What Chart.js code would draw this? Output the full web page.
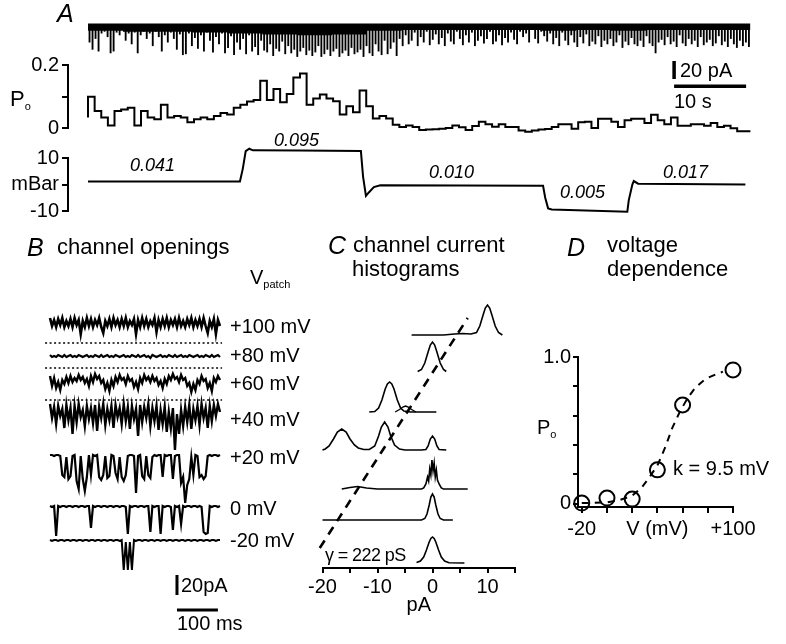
<!DOCTYPE html>
<html>
<head>
<meta charset="utf-8">
<title>Stretch-activated channel: Po, pressure, openings</title>
<script src="https://cdn.jsdelivr.net/npm/chart.js@4.4.1/dist/chart.umd.min.js"></script>
<style>
  html, body { margin: 0; padding: 0; background: #fff; }
  #fig { position: relative; width: 786px; height: 644px; overflow: hidden;
         font-family: "Liberation Sans", Arial, Helvetica, sans-serif; color: #000; }
  #fig canvas { position: absolute; }
  .t { position: absolute; white-space: nowrap; line-height: 1; transform: translateY(-50%); font-size: 20px; }
  .it { font-style: italic; font-size: 18px; }
  .p { font-style: italic; font-size: 25px; }
  .h { font-size: 22px; }
  .g { font-size: 18px; letter-spacing: -0.6px; }
  .big { font-size: 22px; }
  .t sub { font-size: 11px; vertical-align: -4px; }
</style>
</head>
<body>
<div id="fig"></div>
<script>
// ---------- panel A ----------
const recordSec = 92;
// deepest excursion (pA) in each slice of the continuous record
const rawDepth = [
  20, 28, 16, 30, 10, 8, 14, 32, 30, 9,   12, 6, 18, 10, 22, 9, 32, 12, 8, 16,
  10, 24, 8, 14, 30, 12, 20, 9, 16, 28,   11, 34, 33, 10, 24, 15, 27, 12, 30, 9,
  18, 31, 14, 22, 10, 32, 26, 13, 34, 20, 28, 16, 33, 12, 30, 25, 34, 18, 29, 31,
  22, 35, 27, 30, 19, 33, 24, 32, 28, 36, 30, 26, 34, 29, 35, 31, 24, 36, 33, 28,
  35, 30, 27, 36, 32, 29, 35, 26, 33, 31, 28, 36, 24, 32, 35, 22, 30, 34, 18, 33,
  27, 20, 35, 16, 24, 12, 22, 18, 9, 24,  14, 20, 8, 23, 17, 11, 22, 15, 24, 10,
  19, 22, 8, 16, 23, 12, 20, 9, 24, 18,   13, 21, 16, 8, 22, 19, 12, 23, 15, 20,
  9, 17, 22, 8, 14, 10, 20, 6, 16, 21,    8, 13, 19, 10, 22, 15, 24, 9, 18, 23,
  12, 20, 25, 14, 21, 11, 24, 19, 22, 13, 25, 18, 22, 16, 24, 20, 12, 26, 19, 23,
  15, 22, 24, 18, 25, 13, 21, 24, 32, 20, 17, 23, 14, 22, 19, 25, 12, 21, 24, 16,
  22, 18, 25, 14, 23, 20, 17, 24, 21, 13, 23, 19, 25, 16, 22, 26, 18, 24, 20, 25
];
// depth (pA) of the dense noise band, per segment of the record
const rawBand = [9, 7, 8, 8, 9, 10, 11, 12, 11, 7, 6, 6, 6, 6, 7, 6, 7, 6, 6];
// open probability, one value per bin
const poBins = [
  0.033, 0.099, 0.054, 0.033, 0.008, 0.054, 0.059, 0.064, 0.008, 0.054,
  0.033, 0.028, 0.074, 0.033, 0.038, 0.033, 0.018, 0.028, 0.033, 0.028,
  0.038, 0.048, 0.043, 0.064, 0.074, 0.084, 0.089, 0.150, 0.089, 0.124,
  0.082, 0.108, 0.160, 0.173, 0.074, 0.094, 0.106, 0.094, 0.085, 0.043,
  0.069, 0.050, 0.119, 0.069, 0.030, 0.038, 0.030, 0.010, 0.003, 0.008,
  0.003, -0.006, -0.005, -0.004, -0.002, 0.000, 0.008, 0.002, -0.006, 0.006,
  0.020, 0.012, 0.004, 0.012, 0.003, 0.003, -0.008, -0.012, -0.008, -0.005,
  -0.003, 0.003, 0.012, 0.012, -0.002, 0.018, 0.020, 0.000, 0.029, 0.029,
  0.020, 0.003, 0.025, 0.029, 0.029, 0.016, 0.042, 0.025, 0.012, 0.033,
  0.007, 0.007, 0.012, 0.012, 0.007, 0.016, 0.003, 0.007, -0.001, -0.010
];
const poTickVals = [0, 0.1, 0.2];
const poTickText = ['0', '', '0.2'];
// pipette pressure (mBar) against time (s)
const pressT = [0, 21.1, 21.5, 21.9, 22.4, 22.9, 29.4, 37.9, 38.2, 38.6, 39.0, 39.7, 40.6,
                63.2, 63.5, 63.9, 64.4, 74.9, 75.1, 75.6, 75.8, 76.4, 91.3];
const pressP = [1.1, 1.1, 6, 12.6, 13.5, 12.9, 12.8, 12.6, 3, -4.3, -3, -1, -0.3,
                -0.5, -5, -9, -9.4, -10.3, -6, 0, 1.3, 0.3, 0.0];
const pressTickVals = [-10, 0, 10];
const pressTickText = ['-10', 'mBar', '10'];
const pressPoLabels = ['0.041', '0.095', '0.010', '0.005', '0.017'];

// ---------- panel B : single channel records, 5 ms per sample (pA) ----------
const bSampleMs = 5;
const bVolts = ['+100 mV', '+80 mV', '+60 mV', '+40 mV', '+20 mV', '0 mV', '-20 mV'];
const b100 = [0,-8,-2,-9,-1,-7,0,-9,-3,-8,-1,-9,0,-7,-2,-16,-3,-9,0,-8,-1,-9,-2,-7,0,-9,-15,-3,-8,-1,-9,0,-7,-2,-9,-1,-8,0,-9,-3,-7,-1,-16,-2,-9,0,-8,-1,-9,-3,-7,0,-14,-2,-9,-1,-8,0,-9,-2,-7,-1,-9,0,-8,-3,-9,-1,-7,0,-9,-2,-8,-1,-9,0,-8,-15,-3,-9,-1,-16,-2,-8];
const b80 = [0,-2,-1,-2,0,-1,-2,0,-2,-1,0,-2,-1,-2,0,-1,-2,-1,0,-2,-1,-2,0,-1,-2,0,-2,-1,0,-2,-1,-2,0,-1,-2,-1,0,-2,-1,-2,0,-1,-2,0,-2,-1,0,-2,-1,-3,0,-1,-2,-1,0,-2,-1,-2,0,-1,-2,0,-2,-1,0,-2,-1,-2,0,-1,-2,-1,0,-2,-1,-2,0,-1,-2,0,-2,-1,0,-2];
const b60 = [-2,-12,-4,-14,-8,-16,-6,-10,-3,-9,-2,-8,-4,-7,-1,-6,-3,-9,-5,-12,-2,-8,0,-5,-2,-9,-6,-15,-9,-17,-6,-12,-3,-8,-1,-6,-4,-10,-2,-7,-5,-13,-8,-15,-4,-9,-1,-6,-3,-8,-2,-7,-4,-11,-7,-14,-5,-10,-2,-6,0,-5,-3,-8,-1,-6,-4,-12,-9,-18,-10,-16,-6,-10,-2,-7,-5,-14,-9,-17,-4,-8,-2,-6];
const b40 = [0,-14,-3,-20,-2,-12,-5,-24,-1,-16,-4,-30,-2,-18,0,-13,-6,-22,-2,-15,-4,-19,-1,-27,-3,-14,0,-21,-5,-16,-2,-24,-1,-13,-4,-20,0,-17,-3,-25,-2,-15,-5,-32,-1,-18,-3,-14,0,-22,-4,-17,-2,-26,-6,-20,-3,-28,-8,-24,-4,-46,-10,-30,-6,-22,-3,-18,-1,-25,-5,-16,-2,-21,0,-14,-4,-24,-2,-17,-1,-12,0,-8];
const b20 = [0,0,-1,0,0,-1,-20,-22,-2,-24,-21,-1,0,-26,-34,-1,-24,-36,-22,0,-20,0,-1,0,-22,-25,-20,-1,-23,-21,0,-1,-18,-24,-2,-22,-26,-20,-1,0,0,-1,-38,-1,0,-21,-24,-1,-20,-23,-2,0,-1,0,0,-22,0,-1,0,0,-24,-1,0,0,-28,-22,-48,-30,-24,-2,-20,0,-1,-22,-20,-24,-21,-1,0,-1,0,0,-1,0];
const b0 = [0,-1,0,-30,0,-1,0,0,-1,0,0,-1,0,0,-1,0,0,-1,0,0,-22,0,-1,0,0,-1,0,0,-1,0,0,-1,0,0,-1,0,0,-1,-28,0,-1,0,0,-1,0,0,-1,0,0,-26,0,-1,0,0,-28,0,-1,0,0,-1,-24,0,-1,0,-18,0,-1,0,0,-1,0,0,-1,0,-1,-26,-28,-27,0,-1,0,0,-1,0];
const bm20 = [0,-1,0,0,-1,0,0,-1,0,0,-1,0,0,-1,0,0,-1,0,0,-1,0,0,-1,0,0,-1,0,0,-1,0,0,-1,0,0,-1,0,-30,-2,-30,-2,-30,0,-1,0,0,-1,0,0,-1,0,0,-1,0,0,-1,0,0,-1,0,0,-1,0,0,-1,0,0,-1,0,0,-1,0,0,-1,0,0,-1,0,0,-1,0,0,-1,0,0];
const bTraces = [b100, b80, b60, b40, b20, b0, bm20];

// ---------- panel C : current histograms (pA, relative counts) ----------
const histCurrent = [
  [-3.8, 2, 4, 5.5, 7, 8, 8.6, 9.2, 9.6, 10, 10.4, 10.8, 11.4, 12, 12.7],
  [-2.7, -2, -1.4, -0.8, -0.4, 0, 0.4, 0.8, 1.4, 2, 2.5],
  [-11.5, -10.5, -9.8, -9.2, -8.6, -8.2, -7.8, -7.4, -7.0, -6.4, -5.8, -5.2, -4, 0.7],
  [-20, -19.5, -18.8, -18, -17.3, -16.5, -15.7, -15, -14.2, -13.5, -12.5, -11.5, -10.5, -9.8, -9.3, -8.7, -8.1, -7.6, -6.9, -6.0, -5, -2, -1.2, -0.8, -0.4, 0, 0.4, 0.8, 1.2, 2.5],
  [-16.5, -15, -13.6, -12, -10, -2, -1.6, -1.2, -0.9, -0.7, -0.5, -0.3, -0.1, 0.1, 0.3, 0.5, 0.7, 0.9, 1.2, 1.6, 2, 6.4],
  [-20, -2, -1.4, -1, -0.6, -0.3, 0, 0.3, 0.6, 1, 1.4, 2, 3.7],
  [-2.9, -2.2, -1.6, -1.1, -0.6, -0.3, 0, 0.3, 0.6, 1.1, 1.6, 2.2, 3, 5.8]
];
const histCount = [
  [0, 0, 1, 1.5, 1, 2.5, 9, 20, 27, 30, 27, 20, 9, 2.5, 0],
  [0.5, 2.5, 9, 20, 27, 30, 27, 20, 9, 2.5, 0.5],
  [0, 0.5, 4, 12, 23, 28, 30, 28, 23, 12, 4, 1, 0, 0],
  [0, 1, 4, 11, 18, 21, 18, 11, 5, 2, 0.5, 0.5, 4, 14, 23, 28, 23, 14, 5, 1, 0, 0, 0.5, 4, 11, 14, 11, 4, 0.5, 0],
  [0, 1.5, 2.5, 1, 0, 0, 1, 5, 12, 8, 20, 14, 29, 18, 26, 12, 19, 9, 5, 1, 0, 0],
  [0, 0, 1.5, 6, 15, 23, 26, 23, 15, 6, 1.5, 0, 0],
  [0.5, 2, 6, 13, 21, 24.5, 26, 24.5, 21, 13, 6, 2, 0.3, 0]
];
// the small second level in the +60 mV histogram
const hist60SubCurrent = [-6.8, -6.0, -5.4, -4.9, -4.4, -3.8, -3.0];
const hist60SubCount = [0, 2.5, 5, 6, 5, 2.5, 0];
const ivFitCurrent = [-20.5, 6.4];
const ivFitLevel = [20, 250];
const cTickVals = [-20, -15, -10, -5, 0, 5, 10, 15];
const cTickText = { '-20': '-20', '-10': '-10', '0': '0', '10': '10' };

// ---------- panel D : voltage dependence ----------
const dVolt = [-20, 0, 20, 40, 60, 100];
const dPo = [0.005, 0.039, 0.032, 0.231, 0.673, 0.912];
const fitVolt = [-20, -10, 0, 10, 20, 28, 34, 40, 46, 52, 58, 64, 70, 78, 86, 92];
const fitPo = [0.005, 0.006, 0.01, 0.025, 0.055, 0.115, 0.185, 0.26, 0.38, 0.52, 0.63, 0.72, 0.79, 0.85, 0.88, 0.9];
const dXTicks = [-20, 0, 20, 40, 60, 80, 100];
const dXText = { '-20': '-20', '40': 'V (mV)', '100': '+100' };
const dYTicks = [0, 0.2, 0.4, 0.6, 0.8, 1.0];
const dYText = { '0': '0', '1': '1.0' };

// ---------- layout ----------
const fig = document.getElementById('fig');
const FONT = '"Liberation Sans", Arial, Helvetica, sans-serif';
const INK = '#000';
Chart.defaults.font.family = FONT;
Chart.defaults.font.size = 20;
Chart.defaults.color = INK;
Chart.defaults.animation = false;
Chart.defaults.events = [];
Chart.defaults.plugins.legend.display = false;
Chart.defaults.plugins.tooltip.enabled = false;
if (Chart.defaults.plugins.colors) Chart.defaults.plugins.colors.enabled = false;
Chart.defaults.elements.point.radius = 0;
Chart.defaults.elements.line.borderColor = INK;
Chart.defaults.elements.line.borderWidth = 2;

function makeCanvas(left, top, w, h) {
  const c = document.createElement('canvas');
  c.width = w; c.height = h;
  c.style.left = left + 'px'; c.style.top = top + 'px';
  c.style.width = w + 'px'; c.style.height = h + 'px';
  fig.appendChild(c);
  return c;
}
function xy(xs, ys, off) {
  return xs.map((x, i) => ({ x: x, y: ys[i] + (off || 0) }));
}
function line(data, extra) {
  return Object.assign({ type: 'line', data: data, borderColor: INK, backgroundColor: INK,
                         borderWidth: 2, pointRadius: 0, clip: false }, extra);
}
function axisStyle(vals, text, tickLen, pad) {
  return {
    afterBuildTicks: s => { s.ticks = vals.map(v => ({ value: v })); },
    border: { display: true, color: INK, width: 2 },
    grid: { drawOnChartArea: false, color: INK, lineWidth: 2, tickLength: tickLen },
    ticks: { color: INK, padding: pad, autoSkip: false, maxRotation: 0, minRotation: 0,
             callback: v => text[String(v)] ?? '' }
  };
}
function asMap(vals, labels) {
  const m = {};
  vals.forEach((v, i) => { m[String(v)] = labels[i]; });
  return m;
}
const base = { responsive: false, devicePixelRatio: 1 };

// common time axis of panel A: chart area 68..751 px, record starts at 88 px
const aMin = -2.78, aMax = 92.08;

// A: continuous record
const rawDt = recordSec / rawDepth.length;
const bandDt = recordSec / rawBand.length;
const bandPts = rawBand.map((d, i) => ({ x: i * bandDt, y: -d }));
bandPts.push({ x: recordSec, y: -rawBand[rawBand.length - 1] });
new Chart(makeCanvas(0, 18, 786, 82), {
  type: 'bar',
  data: { datasets: [
    line(bandPts, { stepped: 'after', fill: { value: 1 }, borderWidth: 0, clip: true }),
    { type: 'bar', data: rawDepth.map((d, i) => ({ x: (i + 0.5) * rawDt, y: [0, -d] })),
      backgroundColor: INK, barPercentage: 0.62, categoryPercentage: 1 },
    line([{ x: 81.4, y: -40.6 }, { x: 81.4, y: -60.6 }], { borderWidth: 3.5 }),
    line([{ x: 81.4, y: -68.5 }, { x: 91.4, y: -68.5 }], { borderWidth: 3.5 })
  ] },
  options: { ...base,
    layout: { padding: { left: 68, right: 35, top: 0, bottom: 0 } },
    scales: {
      x: { type: 'linear', offset: false, display: false, min: aMin, max: aMax },
      y: { display: false, min: -83.9, max: 7.2 }
    } }
});

// A: open probability
const poDt = recordSec / poBins.length;
const poPts = poBins.map((v, i) => ({ x: i * poDt, y: v }));
poPts.push({ x: recordSec, y: poBins[poBins.length - 1] });
new Chart(makeCanvas(0, 50, 786, 93), {
  type: 'line',
  data: { datasets: [line(poPts, { stepped: 'after' })] },
  options: { ...base,
    layout: { padding: { left: 0, right: 35, top: 15, bottom: 12 } },
    scales: {
      x: { type: 'linear', display: false, min: aMin, max: aMax },
      y: Object.assign({ min: 0, max: 0.2, afterFit: s => { s.width = 68; } },
                       axisStyle(poTickVals, asMap(poTickVals, poTickText), 6, 3))
    } }
});

// A: pressure
new Chart(makeCanvas(0, 142, 786, 84), {
  type: 'line',
  data: { datasets: [line(xy(pressT, pressP))] },
  options: { ...base,
    layout: { padding: { left: 0, right: 35, top: 16, bottom: 14 } },
    scales: {
      x: { type: 'linear', display: false, min: aMin, max: aMax },
      y: Object.assign({ min: -10, max: 10, afterFit: s => { s.width = 68; } },
                       axisStyle(pressTickVals, asMap(pressTickVals, pressTickText), 6, 3))
    } }
});

// B: channel openings (1 px per pA, canvas top = 0 pA)
const bRowBase = [-18, -55, -74, -104, -155, -206, -240];
const bWidth = [2.6, 2.2, 2.4, 2.4, 2.2, 2.2, 2.0];
const bDotted = [-43, -68, -100];
const bDatasets = bTraces.map((tr, k) =>
  line(tr.map((v, i) => ({ x: i * bSampleMs, y: bRowBase[k] + v })), { borderWidth: bWidth[k] }));
bDotted.forEach(y => bDatasets.push(
  line([{ x: -12, y: y }, { x: 420, y: y }], { borderWidth: 1.3, borderDash: [2, 2.5] })));
bDatasets.push(line([{ x: 310, y: -275 }, { x: 310, y: -295 }], { borderWidth: 3 }));
bDatasets.push(line([{ x: 310, y: -310 }, { x: 410, y: -310 }], { borderWidth: 3 }));
new Chart(makeCanvas(0, 300, 300, 340), {
  type: 'line',
  data: { datasets: bDatasets },
  options: { ...base,
    layout: { padding: { left: 50, right: 80, top: 0, bottom: 0 } },
    scales: {
      x: { type: 'linear', display: false, min: 0, max: 415 },
      y: { display: false, min: -340, max: 0 }
    } }
});

// C: current histograms, stacked rows
const histRowBase = [233, 196, 156, 118, 79, 48, 5];
const cDatasets = histCurrent.map((xs, k) => line(xy(xs, histCount[k], histRowBase[k]), { borderWidth: 1.6 }));
cDatasets.push(line(xy(hist60SubCurrent, hist60SubCount, histRowBase[2]), { borderWidth: 1.4 }));
cDatasets.push(line(xy(ivFitCurrent, ivFitLevel), { borderWidth: 2.6, borderDash: [9, 7] }));
new Chart(makeCanvas(300, 280, 240, 345), {
  type: 'line',
  data: { datasets: cDatasets },
  options: { ...base,
    layout: { padding: { left: 22.5, right: 25, top: 10, bottom: 0 } },
    scales: {
      x: Object.assign({ type: 'linear', min: -20, max: 15, afterFit: s => { s.height = 57; },
                         title: { display: true, text: 'pA', color: INK, padding: { top: 0, bottom: 8 } } },
                       axisStyle(cTickVals, cTickText, 5, 2)),
      y: { display: false, min: 0, max: 278 }
    } }
});

// D: voltage dependence
new Chart(makeCanvas(520, 340, 266, 210), {
  type: 'line',
  data: { datasets: [
    line(xy(dVolt, dPo), { showLine: false, pointRadius: 7.5, pointBorderWidth: 2,
      pointBorderColor: INK, pointBackgroundColor: 'rgba(0,0,0,0)' }),
    line(xy(fitVolt, fitPo), { borderWidth: 2, borderDash: [7, 6] })
  ] },
  options: { ...base,
    layout: { padding: { left: 0, right: 53, top: 17, bottom: 0 } },
    scales: {
      x: Object.assign({ type: 'linear', min: -23, max: 100, afterFit: s => { s.height = 43; } },
                       axisStyle(dXTicks, dXText, 6, 4)),
      y: Object.assign({ min: -0.022, max: 1.0, afterFit: s => { s.width = 58; } },
                       axisStyle(dYTicks, dYText, 5, 2))
    } }
});

// ---------- text ----------
const texts = [
  ['A', 57, 13, 'p'],
  ['P<sub>o</sub>', 10, 100, 'big'],
  [pressPoLabels[0], 130, 165, 'it'],
  [pressPoLabels[1], 274, 140, 'it'],
  [pressPoLabels[2], 429, 172, 'it'],
  [pressPoLabels[3], 560, 192, 'it'],
  [pressPoLabels[4], 663, 172, 'it'],
  ['20 pA', 680, 70, ''],
  ['10 s', 674, 101, ''],
  ['B', 27, 247, 'p'],
  ['channel openings', 57, 247, 'h'],
  ['V<sub>patch</sub>', 250, 278, ''],
  ['20pA', 181, 585, ''],
  ['100 ms', 177, 623, ''],
  ['C', 328, 245, 'p'],
  ['channel current', 353, 245, 'h'],
  ['histograms', 352, 269, 'h'],
  ['γ = 222 pS', 325, 555, 'g'],
  ['D', 567, 247, 'p'],
  ['voltage', 607, 245, 'h'],
  ['dependence', 607, 269, 'h'],
  ['P<sub>o</sub>', 537, 428, ''],
  ['k = 9.5 mV', 673, 468, '']
];
const bLabelY = [326, 355, 383, 419, 457, 508, 540];
bVolts.forEach((v, k) => texts.push([v, 230, bLabelY[k], '']));
texts.forEach(([html, x, y, cls]) => {
  const d = document.createElement('div');
  d.className = 't ' + cls;
  d.innerHTML = html;
  d.style.left = x + 'px';
  d.style.top = y + 'px';
  fig.appendChild(d);
});
</script>
</body>
</html>
